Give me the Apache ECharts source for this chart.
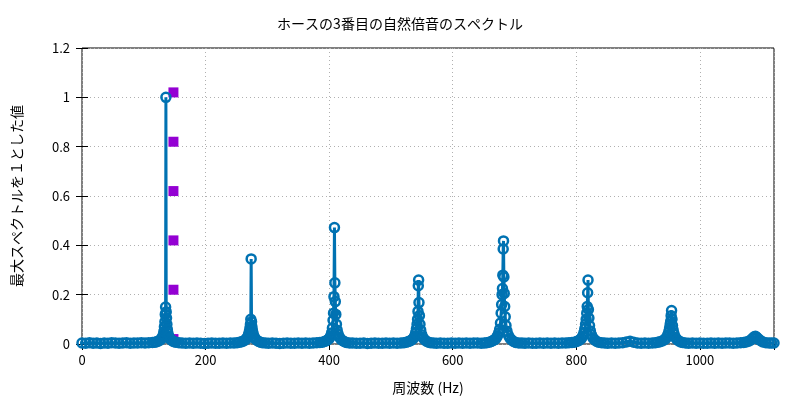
<!DOCTYPE html>
<html>
<head>
<meta charset="utf-8">
<script src="https://cdn.jsdelivr.net/npm/echarts@6/dist/echarts.min.js"></script>
<style>html,body{margin:0;padding:0;background:#fff}#c{width:800px;height:400px}</style>
</head>
<body>
<div id="c"></div>
<script>
// Spectrum data: [frequency Hz, relative amplitude]
const baseA = [[0,0.004],[6,0.003],[12,0.005],[18,0.003],[24,0.004],[30,0.002],[36,0.004],[42,0.003],[48,0.005],[54,0.004],[60,0.003],[66,0.004],[72,0.005],[78,0.003],[84,0.004],[90,0.004],[96,0.005],[102,0.004],[108,0.005],[114,0.006]];
const peak1 = [[118,0.007],[121,0.009],[124,0.012],[126.5,0.016],[128.5,0.021],[130,0.027],[131.5,0.036],[132.5,0.05],[133.4,0.07],[134.2,0.09],[134.8,0.12],[135.3,0.15],[135.8,1.0],[136.3,0.13],[136.8,0.105],[137.4,0.08],[138.1,0.06],[139,0.044],[140.3,0.032],[142,0.023],[144,0.017],[146.5,0.012],[149,0.009],[152,0.007]];
const baseB = [[157,0.005],[162,0.004],[168,0.003],[174,0.004],[180,0.003],[186,0.004],[192,0.003],[198,0.002],[204,0.003],[210,0.004],[216,0.003],[222,0.003],[228,0.004],[234,0.003],[240,0.004],[246,0.004],[251,0.005]];
const peak2 = [[255,0.007],[258.5,0.009],[261.5,0.012],[264,0.016],[266,0.021],[268,0.028],[269.5,0.038],[270.8,0.05],[271.8,0.065],[272.6,0.08],[273.2,0.1],[273.8,0.345],[274.4,0.09],[275,0.07],[275.8,0.055],[277,0.042],[278.5,0.03],[280.5,0.021],[283,0.015],[286,0.01],[289,0.007],[292,0.005]];
const baseC = [[297,0.004],[302,0.003],[308,0.004],[314,0.003],[320,0.002],[326,0.003],[332,0.004],[338,0.003],[344,0.003],[350,0.004],[356,0.003],[362,0.004],[368,0.003],[374,0.004],[380,0.005],[385,0.006]];
const peak3 = [[389,0.007],[392.5,0.01],[395.5,0.013],[398,0.017],[400.5,0.023],[402.5,0.032],[404,0.045],[405.3,0.065],[406.3,0.096],[407.1,0.125],[407.8,0.192],[408.6,0.472],[409.3,0.248],[410,0.172],[410.8,0.12],[411.8,0.08],[413,0.056],[414.5,0.04],[416.5,0.028],[419,0.019],[422,0.013],[425,0.009],[428,0.006]];
const baseD = [[433,0.004],[438,0.004],[444,0.003],[450,0.003],[456,0.004],[462,0.002],[468,0.003],[474,0.004],[480,0.003],[486,0.003],[492,0.004],[498,0.003],[504,0.004],[510,0.003],[516,0.004],[521,0.005]];
const peak4 = [[525,0.007],[528.5,0.01],[531.5,0.013],[534,0.017],[536.5,0.023],[538.5,0.032],[540,0.045],[541.3,0.062],[542.3,0.08],[543.1,0.1],[543.8,0.132],[544.3,0.236],[544.8,0.259],[545.4,0.168],[546.1,0.115],[547,0.08],[548.2,0.056],[549.8,0.038],[551.8,0.026],[554.5,0.017],[557.5,0.011],[561,0.007],[564,0.005]];
const baseE = [[569,0.004],[574,0.003],[580,0.004],[586,0.003],[592,0.003],[598,0.004],[604,0.003],[610,0.004],[616,0.003],[622,0.004],[628,0.003],[634,0.004],[640,0.004],[646,0.003],[651,0.004],[655,0.005]];
const peak5 = [[659,0.007],[662.5,0.01],[665.5,0.014],[668,0.018],[670.5,0.024],[672.5,0.033],[674.5,0.045],[676,0.06],[677.3,0.085],[678.4,0.125],[679.2,0.16],[679.9,0.2],[680.5,0.225],[681.1,0.279],[681.7,0.385],[682.2,0.418],[682.8,0.272],[683.4,0.205],[684.1,0.152],[685,0.11],[686.2,0.075],[687.8,0.052],[690,0.035],[692.5,0.024],[695.5,0.016],[698.5,0.01],[702,0.006]];
const baseF = [[707,0.004],[712,0.004],[717,0.003],[723,0.004],[729,0.003],[735,0.003],[741,0.004],[747,0.003],[753,0.004],[759,0.003],[765,0.004],[771,0.003],[777,0.004],[783,0.004],[788,0.005],[793,0.006]];
const peak6 = [[797,0.007],[800.5,0.01],[803.5,0.013],[806,0.017],[808.5,0.023],[810.5,0.032],[812.3,0.045],[813.8,0.062],[815,0.08],[816,0.1],[816.9,0.125],[817.7,0.152],[818.4,0.208],[819,0.259],[819.6,0.14],[820.4,0.105],[821.4,0.075],[822.8,0.053],[824.5,0.037],[826.8,0.025],[829.5,0.017],[832.5,0.011],[836,0.007]];
const baseG = [[841,0.005],[846,0.004],[851,0.003],[857,0.004],[863,0.003],[869,0.004],[875,0.005],[881,0.008],[887,0.011],[893,0.007],[899,0.004],[905,0.003],[911,0.004],[917,0.003],[923,0.004],[928,0.005]];
const peak7 = [[932,0.007],[935.5,0.009],[939,0.012],[942,0.016],[944.5,0.021],[946.5,0.028],[948.3,0.038],[949.8,0.05],[951,0.065],[952,0.08],[952.8,0.092],[953.5,0.115],[954.2,0.136],[954.9,0.1],[955.7,0.075],[956.8,0.056],[958.3,0.04],[960.3,0.027],[963,0.018],[966,0.012],[969,0.008],[972,0.006]];
const baseH = [[977,0.004],[982,0.003],[988,0.004],[994,0.003],[1000,0.004],[1006,0.003],[1012,0.003],[1018,0.004],[1024,0.003],[1030,0.004],[1036,0.003],[1042,0.004],[1048,0.004],[1054,0.003],[1060,0.004],[1066,0.005],[1071,0.006]];
const peak8 = [[1075,0.008],[1079,0.011],[1082.5,0.016],[1085.5,0.023],[1088,0.029],[1090,0.031],[1092,0.027],[1095,0.02],[1098.5,0.013],[1102,0.008]];
const baseI = [[1107,0.005],[1112,0.004],[1116,0.004],[1120,0.004]];

// Purple square markers
const markerX = [148, 148, 148, 148, 148, 148];
const markerY = [1.02, 0.82, 0.62, 0.42, 0.22, 0.02];

const titleText = 'ホースの3番目の自然倍音のスペクトル';
const xName = '周波数 (Hz)';
const yName = '最大スペクトルを１とした値';

const spectrum = [].concat(baseA, peak1, baseB, peak2, baseC, peak3, baseD, peak4, baseE, peak5, baseF, peak6, baseG, peak7, baseH, peak8, baseI);
const markers = markerX.map((x, i) => [x, markerY[i]]);

const FONT = '"Noto Sans CJK JP", "Noto Sans", sans-serif';
const chart = echarts.init(document.getElementById('c'), null, {renderer: 'canvas'});
const gridLine = {show: true, lineStyle: {type: [1, 3], color: '#b0b0b0', width: 1}};
chart.setOption({
  animation: false,
  backgroundColor: '#fff',
  title: {text: titleText, left: 'center', top: 12, textStyle: {fontFamily: FONT, fontSize: 14, fontWeight: 'normal', color: '#000'}},
  grid: {left: 82, right: 26, top: 48, bottom: 52, show: true, borderColor: '#000', borderWidth: 1, backgroundColor: 'transparent'},
  xAxis: [
    {type: 'value', min: 0, max: 1120, interval: 200, position: 'bottom',
     name: xName, nameLocation: 'middle', nameGap: 37,
     nameTextStyle: {fontFamily: FONT, fontSize: 14, color: '#000'},
     axisLine: {show: false}, axisTick: {show: true, inside: true, length: 6, lineStyle: {color: '#000'}},
     axisLabel: {fontFamily: FONT, fontSize: 13, color: '#000', margin: 10, showMaxLabel: false, formatter: v => String(v)},
     splitLine: gridLine},
    {type: 'value', min: 0, max: 1120, interval: 200, position: 'top',
     axisLine: {show: false}, axisTick: {show: true, inside: true, length: 6, lineStyle: {color: '#000'}},
     axisLabel: {show: false}, splitLine: {show: false}}
  ],
  yAxis: [
    {type: 'value', min: 0, max: 1.2, interval: 0.2, position: 'left',
     name: yName, nameLocation: 'middle', nameGap: 58, nameRotate: 90,
     nameTextStyle: {fontFamily: FONT, fontSize: 14, color: '#000'},
     axisLine: {show: false}, axisTick: {show: true, inside: true, length: 6, lineStyle: {color: '#000'}},
     axisLabel: {fontFamily: FONT, fontSize: 13, color: '#000', margin: 12},
     splitLine: gridLine},
    {type: 'value', min: 0, max: 1.2, interval: 0.2, position: 'right',
     axisLine: {show: false}, axisTick: {show: true, inside: true, length: 6, lineStyle: {color: '#000'}},
     axisLabel: {show: false}, splitLine: {show: false}}
  ],
  series: [
    {type: 'scatter', data: markers, symbol: 'rect', symbolSize: 10, z: 1,
     itemStyle: {color: '#9400d3', opacity: 1}, silent: true},
    {type: 'line', data: spectrum, z: 2, symbol: 'circle', symbolSize: 9, showAllSymbol: true,
     clip: false,
     lineStyle: {color: '#0072b2', width: 3},
     itemStyle: {color: 'rgba(0,0,0,0)', borderColor: '#0072b2', borderWidth: 2.5},
     silent: true}
  ]
});
</script>
</body>
</html>
